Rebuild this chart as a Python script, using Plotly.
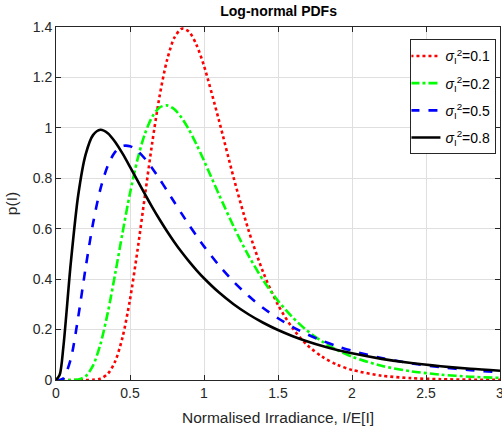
import plotly.graph_objects as go

# Normalised irradiance sample points
x_vals = [0, 0.025, 0.05, 0.1, 0.15, 0.2, 0.25, 0.3, 0.35, 0.4, 0.45, 0.5, 0.55, 0.6,
          0.65, 0.7, 0.75, 0.8, 0.85, 0.9, 0.95, 1.0, 1.1, 1.2, 1.3, 1.4, 1.5, 1.6,
          1.7, 1.8, 1.9, 2.0, 2.2, 2.4, 2.6, 2.8, 3.0]

p_01 = [0, 0, 0, 0, 0, 0, 0.0007, 0.0054, 0.0243, 0.0740, 0.1703, 0.3190, 0.5116, 0.7272,
        0.9400, 1.1261, 1.2681, 1.3576, 1.3932, 1.3804, 1.3280, 1.2459, 1.0320, 0.8027,
        0.5958, 0.4270, 0.2980, 0.2040, 0.1375, 0.0917, 0.0606, 0.0399, 0.0170, 0.0073,
        0.0031, 0.0013, 0.0006]

p_02 = [0, 0, 0, 0.0001, 0.0019, 0.0150, 0.0570, 0.1413, 0.2672, 0.4216, 0.5854, 0.7405,
        0.8729, 0.9750, 1.0439, 1.0808, 1.0891, 1.0736, 1.0393, 0.9911, 0.9335, 0.8700,
        0.7372, 0.6091, 0.4941, 0.3957, 0.3139, 0.2475, 0.1942, 0.1519, 0.1186, 0.0926,
        0.0563, 0.0344, 0.0212, 0.0131, 0.0082]

p_05 = [0, 0.0002, 0.0060, 0.0835, 0.2496, 0.4445, 0.6205, 0.7569, 0.8503, 0.9048, 0.9281,
        0.9272, 0.9089, 0.8785, 0.8401, 0.7969, 0.7512, 0.7047, 0.6587, 0.6139, 0.5709,
        0.5300, 0.4553, 0.3900, 0.3338, 0.2857, 0.2448, 0.2100, 0.1805, 0.1554, 0.1340,
        0.1159, 0.0872, 0.0662, 0.0507, 0.0392, 0.0305]

p_08 = [0, 0.0207, 0.1323, 0.4642, 0.7326, 0.8939, 0.9713, 0.9925, 0.9788, 0.9439, 0.8975,
        0.8454, 0.7913, 0.7377, 0.6858, 0.6364, 0.5900, 0.5467, 0.5065, 0.4694, 0.4351,
        0.4036, 0.3478, 0.3007, 0.2608, 0.2270, 0.1982, 0.1737, 0.1527, 0.1346, 0.1191,
        0.1057, 0.0839, 0.0672, 0.0544, 0.0444, 0.0365]

series_names = ["<i>σ</i><sub>I</sub><sup>2</sup>=0.1", "<i>σ</i><sub>I</sub><sup>2</sup>=0.2",
                "<i>σ</i><sub>I</sub><sup>2</sup>=0.5", "<i>σ</i><sub>I</sub><sup>2</sup>=0.8"]
series_vals = [p_01, p_02, p_05, p_08]
colors = ["#ff0000", "#00ff00", "#0000ff", "#000000"]
dashes = ["dot", "dashdot", "dash", "solid"]

x_ticks = [0, 0.5, 1, 1.5, 2, 2.5, 3]
x_tick_text = ["0", "0.5", "1", "1.5", "2", "2.5", "3"]
y_ticks = [0, 0.2, 0.4, 0.6, 0.8, 1, 1.2, 1.4]
y_tick_text = ["0", "0.2", "0.4", "0.6", "0.8", "1", "1.2", "1.4"]

fig = go.Figure()
for i, (name, vals, c, d) in enumerate(zip(series_names, series_vals, colors, dashes)):
    fig.add_trace(go.Scatter(x=x_vals, y=vals, mode="lines", name=name, legendgroup=f"g{i}",
                             line=dict(color=c, dash=d, width=2.6, shape="spline", smoothing=0.8)))

font = "Liberation Sans, Arial, sans-serif"
axis_common = dict(showline=True, linecolor="#262626", linewidth=1, mirror="ticks",
                   ticks="inside", ticklen=5, tickcolor="#262626", automargin=False,
                   showgrid=True, gridcolor="#dfdfdf", gridwidth=1, zeroline=False,
                   ticklabeloverflow="allow",
                   tickfont=dict(family=font, size=14, color="#262626"))

fig.update_layout(
    width=502, height=428,
    margin=dict(l=56, r=2, t=27, b=48),
    paper_bgcolor="white", plot_bgcolor="white",
    title=dict(text="<b>Log-normal PDFs</b>", x=0.555, xanchor="center", y=0.974, yanchor="middle",
               font=dict(family=font, size=14, color="black")),
    xaxis=dict(range=[0, 3], tickvals=x_ticks, ticktext=x_tick_text,
               title=dict(text="Normalised Irradiance, I/E[I]", standoff=12,
                          font=dict(family=font, size=15.5, color="#262626")),
               **axis_common),
    yaxis=dict(range=[0, 1.4], tickvals=y_ticks, ticktext=y_tick_text,
               title=dict(text="p(I)", standoff=11,
                          font=dict(family=font, size=15.5, color="#262626")),
               **axis_common),
    legend=dict(x=0.992, xanchor="right", y=0.965, yanchor="top",
                bordercolor="#262626", borderwidth=1, bgcolor="white",
                font=dict(family=font, size=14, color="black"),
                tracegroupgap=6, itemwidth=30, indentation=-6),
    showlegend=True,
)

fig.write_html("out.html", config={"displayModeBar": False},
               post_script="document.body.style.margin='0';document.body.style.overflow='hidden';")
